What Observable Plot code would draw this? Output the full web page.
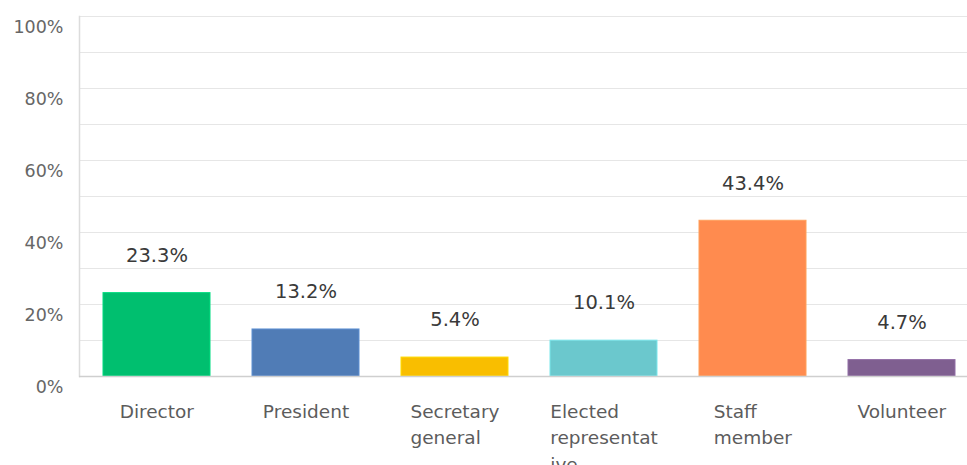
<!DOCTYPE html>
<html>
<head>
<meta charset="utf-8">
<script src="https://cdn.jsdelivr.net/npm/d3@7"></script>
<script src="https://cdn.jsdelivr.net/npm/@observablehq/plot@0.6"></script>
<style>
  html, body { margin: 0; padding: 0; background: #fff; }
  svg { display: block; }
</style>
</head>
<body>
<div id="chart"></div>
<script>
const categories = ["Director", "President", "Secretary general", "Elected representative", "Staff member", "Volunteer"];
const tickLabels = ["Director", "President", "Secretary\ngeneral", "Elected\nrepresentat\nive", "Staff\nmember", "Volunteer"];
const values = [23.3, 13.2, 5.4, 10.1, 43.4, 4.7];
const colors = ["#00BF6F", "#507CB6", "#F9BE00", "#6BC8CD", "#FF8B4F", "#7F5F90"];
const yTicks = [0, 20, 40, 60, 80, 100];
const yGrid = [10, 20, 30, 40, 50, 60, 70, 80, 90, 100];

const data = categories.map((c, i) => ({category: c, value: values[i], label: tickLabels[i], color: colors[i]}));

const font = "'DejaVu Sans', 'Open Sans', sans-serif";

const chart = Plot.plot({
  width: 967,
  height: 465,
  marginLeft: 79,
  marginRight: 0,
  marginTop: 16,
  marginBottom: 89,
  style: {fontFamily: font, background: "#fff"},
  x: {domain: categories, range: [80, 978], paddingInner: 0.28, paddingOuter: 0.14, axis: null},
  y: {domain: [0, 100], axis: null},
  marks: [
    Plot.gridY(yGrid, {stroke: "#e6e6e6", strokeOpacity: 1, strokeWidth: 1}),
    Plot.axisY(yTicks, {
      tickSize: 0, tickPadding: 16, dy: 11,
      tickFormat: d => d + "%",
      fontSize: 17.5, fill: "#666", label: null
    }),
    Plot.frame({anchor: "left", stroke: "#dcdcdc", strokeWidth: 1.5}),
    Plot.barY(data, {x: "category", y: "value", fill: "color", stroke: d => d3.color(d.color).brighter(0.4).formatHex(), strokeWidth: 1, insetTop: 0.5}),
    Plot.ruleY([0], {stroke: "#cfcfcf", strokeWidth: 1.5}),
    Plot.text(data, {
      x: "category", y: "value", text: d => d.value.toFixed(1) + "%",
      dy: -37, lineAnchor: "middle", fontSize: 19.5, fill: "#3a3a3a"
    }),
    Plot.text(data, {
      x: "category", y: () => 0, text: "label",
      dy: 23, lineAnchor: "top", lineHeight: 1.42, fontSize: 18.5, fill: "#5c5c5c",
      className: "cat-label"
    })
  ]
});

document.getElementById("chart").appendChild(chart);

// left-align multi-line category labels within a block centred on each bar
chart.querySelectorAll(".cat-label text").forEach(t => {
  const w = t.getBBox().width;
  t.setAttribute("text-anchor", "start");
  const tr = t.getAttribute("transform") || "";
  t.setAttribute("transform", tr + ` translate(${-w / 2},0)`);
});
</script>
</body>
</html>
